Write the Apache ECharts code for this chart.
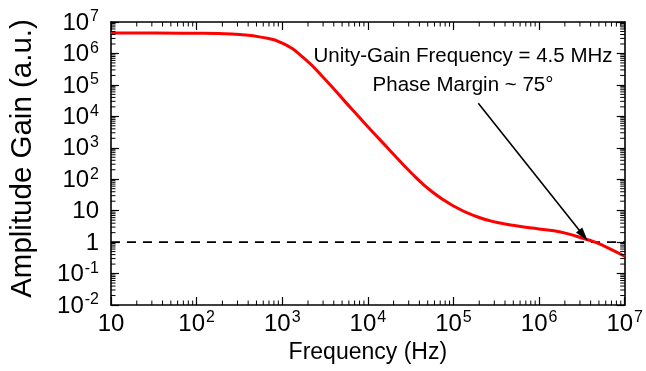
<!DOCTYPE html>
<html>
<head>
<meta charset="utf-8">
<script src="https://cdn.jsdelivr.net/npm/echarts@6/dist/echarts.min.js"></script>
<style>
  html, body { margin: 0; padding: 0; background: #fff; }
  #chart { width: 646px; height: 371px; }
</style>
</head>
<body>
<div id="chart"></div>
<script>
// Open-loop amplitude response (log-log)
const frequencyHz = [10, 32, 100, 178, 316, 562, 1000, 1780, 3160, 5620, 10000, 17800, 31600, 56200,
  100000, 178000, 316000, 562000, 1000000, 1780000, 3160000, 4500000, 5620000, 10000000];
const amplitudeGain = [4.47e6, 4.47e6, 4.37e6, 4.27e6, 3.98e6, 3.31e6, 2.14e6, 7.24e5, 1.51e5, 2.63e4, 4680, 871, 166, 39.8,
  14.1, 6.76, 4.27, 3.24, 2.63, 2.11, 1.35, 1.0, 0.776, 0.355];

// Unity-gain reference level
const unityLevel = 1;

// Annotation arrow, in data coordinates (frequency, gain)
const arrowFrom = [1.95e5, 2.6e4];
const arrowTo = [3.3e6, 1.62];

// Decades covered by each axis, and log minor-tick multiples
const xDecades = [1, 2, 3, 4, 5, 6];
const yDecades = [-2, -1, 0, 1, 2, 3, 4, 5, 6];
const minorMultiples = [2, 3, 4, 5, 6, 7, 8, 9];

const annotationLines = ['Unity-Gain Frequency = 4.5 MHz', 'Phase Margin ~ 75\u00B0'];

const FONT = '"Liberation Sans", Arial, sans-serif';

const minorTicks = [];
xDecades.forEach(d => minorMultiples.forEach(m => minorTicks.push([m * Math.pow(10, d), 1, 0])));
yDecades.forEach(d => minorMultiples.forEach(m => minorTicks.push([10, m * Math.pow(10, d), 1])));

function powLabel(v) {
  const e = Math.round(Math.log10(v));
  if (e === 0) return '{b|1}';
  if (e === 1) return '{b|10}';
  return '{b|10}{s|' + e + '}';
}

const labelRich = {
  b: { fontSize: 24, fontFamily: FONT, color: '#000', verticalAlign: 'bottom', lineHeight: 26 },
  s: { fontSize: 16, fontFamily: FONT, color: '#000', verticalAlign: 'top', lineHeight: 16, padding: [0, 0, 0, 1] }
};

const axisLineStyle = { color: '#000', width: 1.6 };
const majorTick = { show: true, inside: true, length: 8, lineStyle: { color: '#000', width: 1.2 } };

const chart = echarts.init(document.getElementById('chart'), null, { renderer: 'canvas' });

chart.setOption({
  animation: false,
  backgroundColor: '#fff',
  grid: { left: 111, right: 17, top: 22, bottom: 66, containLabel: false },
  xAxis: [
    {
      type: 'log', logBase: 10, min: 10, max: 1e7, interval: 1,
      position: 'bottom',
      name: 'Frequency (Hz)', nameLocation: 'middle', nameGap: 26,
      nameTextStyle: { fontSize: 23, fontFamily: FONT, color: '#000', verticalAlign: 'top' },
      axisLine: { show: true, lineStyle: axisLineStyle },
      axisTick: majorTick,
      axisLabel: { show: true, margin: 5, formatter: powLabel, rich: labelRich },
      splitLine: { show: false }
    },
    {
      type: 'log', logBase: 10, min: 10, max: 1e7, interval: 1,
      position: 'top',
      axisLine: { show: true, lineStyle: axisLineStyle },
      axisTick: majorTick,
      axisLabel: { show: false },
      splitLine: { show: false }
    }
  ],
  yAxis: [
    {
      type: 'log', logBase: 10, min: 0.01, max: 1e7, interval: 1,
      position: 'left',
      name: 'Amplitude Gain (a.u.)', nameLocation: 'middle', nameGap: 73, nameRotate: 90,
      nameTextStyle: { fontSize: 29.5, fontFamily: FONT, color: '#000', padding: [0, 0, 0, 10] },
      axisLine: { show: true, lineStyle: axisLineStyle },
      axisTick: majorTick,
      axisLabel: { show: true, margin: 12, formatter: powLabel, rich: labelRich },
      splitLine: { show: false }
    },
    {
      type: 'log', logBase: 10, min: 0.01, max: 1e7, interval: 1,
      position: 'right',
      axisLine: { show: true, lineStyle: axisLineStyle },
      axisTick: majorTick,
      axisLabel: { show: false },
      splitLine: { show: false }
    }
  ],
  graphic: annotationLines.map((t, i) => ({
    type: 'text',
    x: 463, y: 56 + i * 29,
    style: { text: t, fontSize: 20.5, fontFamily: FONT, fill: '#000', textAlign: 'center', textVerticalAlign: 'middle' },
    z: 100
  })),
  series: [
    {
      // log-spaced minor ticks on all four sides of the frame
      type: 'custom',
      silent: true,
      clip: false,
      xAxisIndex: 0, yAxisIndex: 0,
      data: minorTicks,
      encode: { x: 0, y: 1 },
      renderItem: function (params, api) {
        const cs = params.coordSys;
        const len = 4.5;
        const st = { stroke: '#000', lineWidth: 1 };
        if (api.value(2) === 0) {
          const p = api.coord([api.value(0), 1]);
          const b = cs.y + cs.height, t = cs.y;
          return { type: 'group', children: [
            { type: 'line', shape: { x1: p[0], y1: b, x2: p[0], y2: b - len }, style: st },
            { type: 'line', shape: { x1: p[0], y1: t, x2: p[0], y2: t + len }, style: st }
          ] };
        }
        const p = api.coord([10, api.value(1)]);
        const l = cs.x, r = cs.x + cs.width;
        return { type: 'group', children: [
          { type: 'line', shape: { x1: l, y1: p[1], x2: l + len, y2: p[1] }, style: st },
          { type: 'line', shape: { x1: r, y1: p[1], x2: r - len, y2: p[1] }, style: st }
        ] };
      },
      z: 5
    },
    {
      // unity-gain level
      type: 'line',
      xAxisIndex: 0, yAxisIndex: 0,
      data: [[10, unityLevel], [1e7, unityLevel]],
      showSymbol: false,
      lineStyle: { color: '#000', width: 1.8, type: [9, 7] },
      silent: true,
      z: 2,
      markLine: {
        silent: true,
        symbol: ['none', 'triangle'],
        symbolSize: [8, 14],
        label: { show: false },
        lineStyle: { color: '#000', width: 1.6, type: 'solid' },
        data: [[{ coord: arrowFrom }, { coord: arrowTo }]],
        z: 6
      }
    },
    {
      type: 'line',
      xAxisIndex: 0, yAxisIndex: 0,
      data: frequencyHz.map((f, i) => [f, amplitudeGain[i]]),
      smooth: 0.5,
      showSymbol: false,
      lineStyle: { color: '#ff0000', width: 3 },
      z: 4
    }
  ]
});
</script>
</body>
</html>
